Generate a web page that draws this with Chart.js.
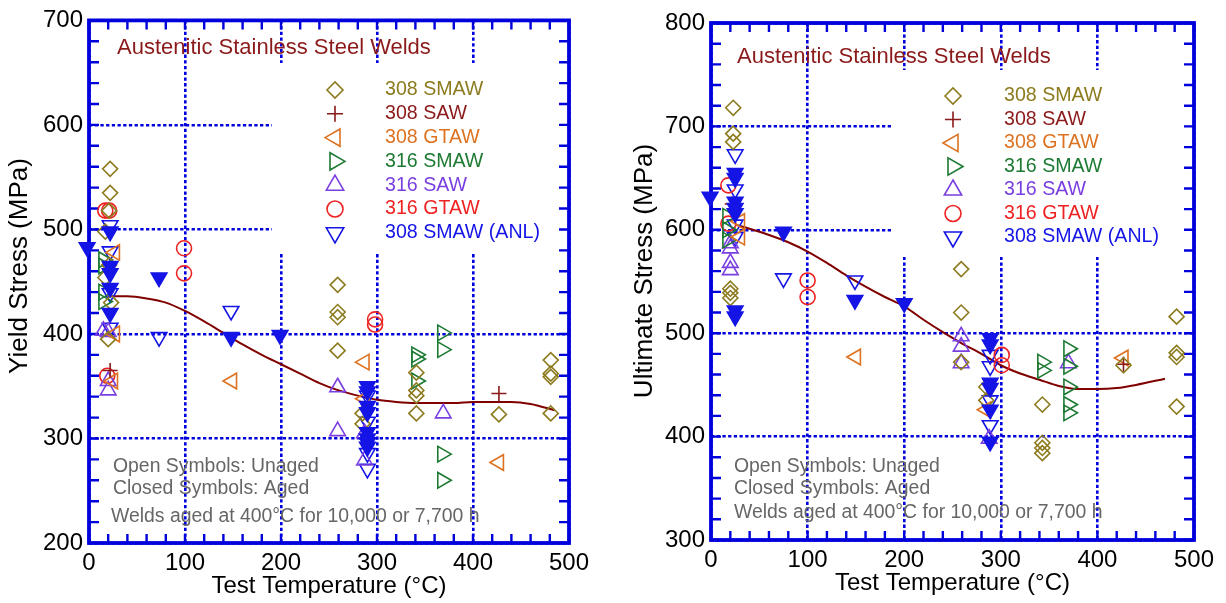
<!DOCTYPE html>
<html>
<head>
<meta charset="utf-8">
<title>Austenitic Stainless Steel Welds</title>
<script src="https://cdn.jsdelivr.net/npm/chart.js@4.4.1/dist/chart.umd.min.js"></script>
<style>
  html, body { margin: 0; padding: 0; background: #fff; }
  #wrap { position: relative; width: 1226px; height: 603px; }
  canvas { position: absolute; top: 0; }
</style>
</head>
<body>
<div id="wrap">
  <canvas id="yield-chart" width="613" height="603" style="left:0"></canvas>
  <canvas id="ultimate-chart" width="613" height="603" style="left:613px"></canvas>
</div>
<script>
// [test temperature °C, stress MPa]
const seriesNames = ['308 SMAW', '308 SAW', '308 GTAW', '316 SMAW', '316 SAW', '316 GTAW', '308 SMAW (ANL)'];

// yield stress
const ysSmaw308 = [[22,558],[22,535],[21,518],[17,498],[21,466],[17,454],[23,430],[20,395],[259,447],[259,421],[259,416],[259,384],[285,324],[285,314],[341,363],[341,346],[341,341],[341,324],[427,323],[481,375],[481,362],[481,359],[481,324]];
const ysSaw308 = [[22,365],[427,343]];
const ysGtaw308 = [[27,478],[27,400],[25,355],[149,355],[287,373],[287,338],[427,277]];
const ysSmaw316 = [[15,471],[15,465],[15,440],[15,431],[341,380],[341,376],[341,355],[368,401],[368,385],[368,285],[368,260]];
const ysSaw316 = [[15,403],[20,402],[20,355],[20,346],[259,349],[259,307],[287,305],[287,279],[369,324]];
const ysGtaw316 = [[17,518],[21,518],[19,360],[99,482],[99,458],[298,414],[298,409]];
const ysAnl = [[22,504],[22,479],[22,439],[22,406],[73,397],[148,422],[290,341],[290,316],[290,286],[290,271]];
const ysAnlAged = [[-2,483],[22,498],[22,465],[22,458],[22,444],[22,420],[73,454],[148,397],[199,399],[290,350],[290,345],[290,331],[290,325],[290,306],[290,300],[290,296],[290,292]];
const ysTrend = [[20,436],[40,436],[60,434],[80,430],[100,422],[120,412],[140,401],[160,390],[180,380],[200,371],[220,362],[240,353],[260,346],[280,341],[300,337],[320,335],[340,334],[360,334],[380,334],[400,335],[420,335],[440,335],[460,333],[485,327]];

// ultimate stress
const usSmaw308 = [[23,718],[23,693],[23,685],[20,543],[20,539],[20,534],[259,562],[259,520],[259,472],[285,448],[285,435],[343,431],[343,394],[343,389],[343,384],[427,469],[482,516],[482,481],[482,477],[482,429]];
const usSaw308 = [[22,625],[427,470]];
const usGtaw308 = [[30,608],[30,593],[150,477],[285,426],[427,476]];
const usSmaw316 = [[17,613],[17,600],[17,590],[343,472],[343,464],[370,485],[370,468],[370,448],[370,431],[370,423]];
const usSaw316 = [[20,587],[20,582],[20,568],[20,561],[259,497],[259,487],[259,471],[288,398],[370,471]];
const usGtaw316 = [[18,643],[18,606],[100,551],[100,535],[301,479],[301,469]];
const usAnl = [[25,673],[25,639],[25,605],[25,593],[75,553],[149,551],[289,479],[289,468],[289,435],[289,411]];
const usAnlAged = [[-1,632],[25,655],[25,650],[25,627],[25,621],[25,616],[25,522],[25,516],[75,598],[149,532],[200,529],[289,495],[289,489],[289,452],[289,447],[289,426],[289,395]];
const usTrend = [[25,605],[40,601],[60,595],[80,588],[100,579],[120,568],[140,556],[160,545],[180,535],[200,526],[220,513],[240,501],[260,490],[280,480],[300,469],[320,461],[340,455],[360,449],[380,446],[400,446],[420,447],[440,450],[470,456]];

const noteLines = ['Open Symbols: Unaged', 'Closed Symbols: Aged', 'Welds aged at 400°C for 10,000 or 7,700 h'];
const panelTitle = 'Austenitic Stainless Steel Welds';

// marker look for each weld series
const markers = [
  { color: '#8c7b1f', style: 'rectRot', rotation: 0, radius: 7.5 },
  { color: '#8b1a1a', style: 'cross', rotation: 0, radius: 7.5 },
  { color: '#dd7322', style: 'triangle', rotation: -90, radius: 9 },
  { color: '#1d7a33', style: 'triangle', rotation: 90, radius: 9 },
  { color: '#7a3fe0', style: 'triangle', rotation: 0, radius: 9 },
  { color: '#ee2222', style: 'circle', rotation: 0, radius: 7.5 },
  { color: '#1414e6', style: 'triangle', rotation: 180, radius: 9 }
];

const axisBlue = '#0000dd';
const fontFamily = "'Liberation Sans', Arial, Helvetica, sans-serif";
Chart.defaults.font.family = fontFamily;

function toPoints(pairs) {
  return pairs.map(([x, y]) => ({ x, y }));
}

function buildDatasets(series, aged, trend) {
  const anl = markers[6];
  const sets = [{
    label: '308 SMAW (ANL) aged',
    data: toPoints(aged),
    pointStyle: 'triangle',
    pointRotation: 180,
    pointRadius: 9,
    pointBorderWidth: 1.6,
    pointBorderColor: anl.color,
    pointBackgroundColor: anl.color,
    showLine: false,
    clip: false
  }];
  series.forEach((pairs, i) => {
    const m = markers[i];
    sets.push({
      label: seriesNames[i],
      data: toPoints(pairs),
      pointStyle: m.style,
      pointRotation: m.rotation,
      pointRadius: m.radius,
      pointBorderWidth: 1.6,
      pointBorderColor: m.color,
      pointBackgroundColor: 'rgba(0,0,0,0)',
      showLine: false,
      clip: false
    });
  });
  sets.push({
    type: 'line',
    label: 'trend',
    data: toPoints(trend),
    borderColor: '#800000',
    borderWidth: 2,
    pointRadius: 0,
    tension: 0.4,
    cubicInterpolationMode: 'monotone',
    fill: false
  });
  return sets;
}

// y title, legend, notes, frame and inward minor ticks
const panelDecor = {
  id: 'panelDecor',
  beforeDatasetsDraw(chart, args, opts) {
    const { ctx, chartArea: a, scales: { x, y } } = chart;
    ctx.save();

    // the legend sits on a white patch that hides the grid behind it
    ctx.fillStyle = '#fff';
    const [bx0, by0, bx1, by1] = opts.legendBox;
    ctx.fillRect(bx0, by0, bx1 - bx0, by1 - by0);

    ctx.textBaseline = 'middle';
    ctx.textAlign = 'center';
    ctx.fillStyle = '#000';
    ctx.font = '26px ' + fontFamily;
    ctx.save();
    ctx.translate(opts.yTitleAt[0], opts.yTitleAt[1]);
    ctx.rotate(-Math.PI / 2);
    ctx.fillText(opts.yTitle, 0, 0);
    ctx.restore();

    ctx.textAlign = 'left';
    ctx.fillStyle = '#8b1a1a';
    ctx.font = '22px ' + fontFamily;
    ctx.fillText(panelTitle, opts.titleAt[0], opts.titleAt[1]);

    ctx.font = '19.6px ' + fontFamily;
    seriesNames.forEach((name, i) => {
      const m = markers[i];
      const ly = opts.legendTop + i * opts.legendStep;
      ctx.strokeStyle = m.color;
      ctx.fillStyle = 'rgba(0,0,0,0)';
      ctx.lineWidth = 1.6;
      Chart.helpers.drawPoint(ctx, {
        pointStyle: m.style,
        rotation: m.rotation,
        radius: m.style === 'triangle' ? 10 : 8,
        borderWidth: 1.6
      }, opts.legendMarkX, ly);
      ctx.fillStyle = m.color;
      ctx.fillText(name, opts.legendTextX, ly);
    });

    ctx.fillStyle = '#666';
    ctx.font = '19.4px ' + fontFamily;
    noteLines.forEach((line, i) => {
      ctx.fillText(line, opts.noteX[i], opts.noteY[i]);
    });

    ctx.strokeStyle = axisBlue;
    ctx.lineWidth = 2.4;
    ctx.beginPath();
    for (let t = x.min; t <= x.max; t += 20) {
      const px = x.getPixelForValue(t);
      ctx.moveTo(px, a.bottom);
      ctx.lineTo(px, a.bottom - 9);
      ctx.moveTo(px, a.top);
      ctx.lineTo(px, a.top + 9);
    }
    for (let v = y.min; v <= y.max; v += 20) {
      const py = y.getPixelForValue(v);
      ctx.moveTo(a.left, py);
      ctx.lineTo(a.left + 10, py);
      ctx.moveTo(a.right, py);
      ctx.lineTo(a.right - 10, py);
    }
    ctx.stroke();

    ctx.lineWidth = 3.8;
    ctx.strokeRect(a.left, a.top, a.right - a.left, a.bottom - a.top);
    ctx.restore();
  }
};

function axis(min, max, fit, tickPad, title) {
  return {
    type: 'linear',
    min: min,
    max: max,
    afterFit: fit,
    ticks: { stepSize: 100, padding: tickPad, color: '#000', font: { size: 24 } },
    grid: { color: axisBlue, lineWidth: 2.6, drawTicks: false },
    border: { display: false, dash: [3.3, 2.4] },
    title: title
  };
}

function makePanel(canvasId, cfg) {
  return new Chart(document.getElementById(canvasId), {
    type: 'scatter',
    data: { datasets: buildDatasets(cfg.series, cfg.aged, cfg.trend) },
    options: {
      responsive: false,
      animation: false,
      events: [],
      layout: { padding: cfg.padding },
      plugins: {
        legend: { display: false },
        tooltip: { enabled: false },
        panelDecor: cfg.decor
      },
      scales: {
        x: axis(0, 500, s => { s.height = cfg.xHeight; }, 6, {
          display: true, text: 'Test Temperature (°C)', color: '#000',
          font: { size: 24 }, padding: { top: 0, bottom: cfg.xTitlePad }
        }),
        y: axis(cfg.yMin, cfg.yMax, s => { s.width = cfg.yWidth; }, 6, { display: false })
      }
    },
    plugins: [panelDecor]
  });
}

makePanel('yield-chart', {
  series: [ysSmaw308, ysSaw308, ysGtaw308, ysSmaw316, ysSaw316, ysGtaw316, ysAnl],
  aged: ysAnlAged,
  trend: ysTrend,
  yMin: 200, yMax: 700,
  padding: { top: 18, right: 44, bottom: 0, left: 0 },
  yWidth: 89, xHeight: 60, xTitlePad: 2,
  decor: {
    yTitle: 'Yield Stress (MPa)', yTitleAt: [20, 266],
    legendBox: [272, 63, 569, 252],
    titleAt: [117, 48],
    legendMarkX: 335, legendTextX: 385, legendTop: 90, legendStep: 23.8,
    noteX: [113, 113, 111], noteY: [467, 489, 517]
  }
});

makePanel('ultimate-chart', {
  series: [usSmaw308, usSaw308, usGtaw308, usSmaw316, usSaw316, usGtaw316, usAnl],
  aged: usAnlAged,
  trend: usTrend,
  yMin: 300, yMax: 800,
  padding: { top: 23, right: 32, bottom: 0, left: 0 },
  yWidth: 98, xHeight: 63, xTitlePad: 5,
  decor: {
    yTitle: 'Ultimate Stress (MPa)', yTitleAt: [32, 271],
    legendBox: [280, 70, 581, 257],
    titleAt: [124, 57],
    legendMarkX: 340, legendTextX: 391, legendTop: 96, legendStep: 23.5,
    noteX: [121, 121, 121], noteY: [467, 489, 513]
  }
});
</script>
</body>
</html>
